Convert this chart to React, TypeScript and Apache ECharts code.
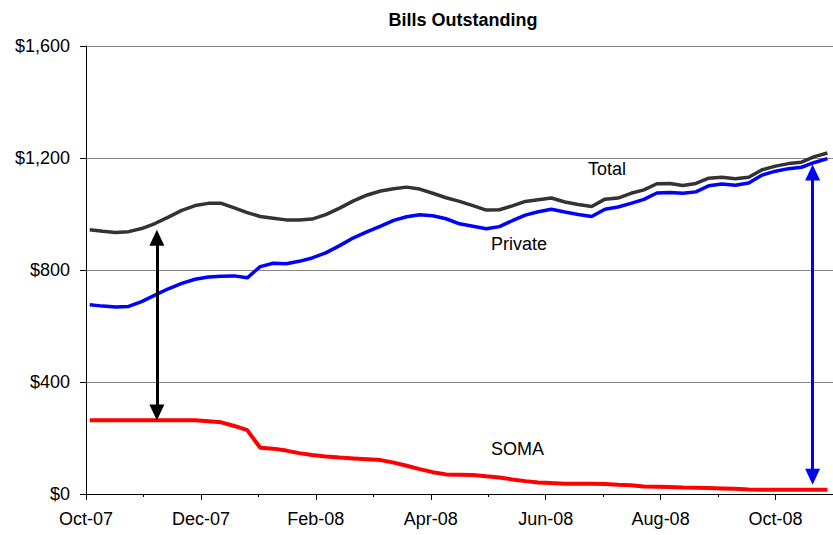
import React, { useEffect, useRef } from "react";
import * as echarts from "echarts";

// Weekly dates (Wednesdays)
const dates: string[] = [
  "2007-10-03","2007-10-10","2007-10-17","2007-10-24","2007-10-31",
  "2007-11-07","2007-11-14","2007-11-21","2007-11-28",
  "2007-12-05","2007-12-12","2007-12-19","2007-12-26",
  "2008-01-02","2008-01-09","2008-01-16","2008-01-23","2008-01-30",
  "2008-02-06","2008-02-13","2008-02-20","2008-02-27",
  "2008-03-05","2008-03-12","2008-03-19","2008-03-26",
  "2008-04-02","2008-04-09","2008-04-16","2008-04-23","2008-04-30",
  "2008-05-07","2008-05-14","2008-05-21","2008-05-28",
  "2008-06-04","2008-06-11","2008-06-18","2008-06-25",
  "2008-07-02","2008-07-09","2008-07-16","2008-07-23","2008-07-30",
  "2008-08-06","2008-08-13","2008-08-20","2008-08-27",
  "2008-09-03","2008-09-10","2008-09-17","2008-09-24",
  "2008-10-01","2008-10-08","2008-10-15","2008-10-22","2008-10-29",
];

const total: number[] = [
  944, 938, 934, 937, 948,
  966, 989, 1013, 1030,
  1038, 1038, 1022, 1005,
  991, 985, 979, 979, 982,
  998, 1021, 1047, 1068,
  1082, 1090, 1096, 1089,
  1074, 1058, 1045, 1030, 1014,
  1015, 1029, 1045, 1051,
  1057, 1043, 1034, 1027,
  1053, 1057, 1074, 1086, 1108,
  1109, 1102, 1109, 1128,
  1131, 1126, 1131, 1158,
  1171, 1180, 1185, 1205, 1218,
];

const privateHeld: number[] = [
  676, 671, 668, 670, 687,
  710, 733, 752, 767,
  775, 778, 779, 772,
  812, 824, 822, 831, 843,
  861, 887, 915, 937,
  957, 977, 990, 997,
  994, 983, 965, 956, 947,
  955, 976, 996, 1008,
  1017, 1007, 998, 991,
  1017, 1025, 1038, 1052, 1075,
  1077, 1074, 1079, 1101,
  1107, 1103, 1111, 1139,
  1153, 1162, 1167, 1184, 1198,
];

const soma: number[] = [
  263, 263, 263, 263, 263,
  263, 263, 263, 263,
  260, 256, 243, 228,
  165, 162, 155, 146, 139,
  134, 130, 127, 124,
  121, 112, 101, 89,
  78, 70, 69, 68, 63,
  59, 52, 46, 41,
  39, 37, 37, 37,
  36, 33, 31, 27, 26,
  25, 23, 22, 21,
  20, 19, 16, 15,
  15, 15, 15, 15, 15,
];

const monthLabels: string[] = [
  "Oct-07","Nov-07","Dec-07","Jan-08","Feb-08","Mar-08","Apr-08",
  "May-08","Jun-08","Jul-08","Aug-08","Sep-08","Oct-08","Nov-08",
];

// annotation arrows: [date, from value, to value] (arrowhead centres)
const blackArrow = { date: "2007-11-08", from: 915, to: 291 };
const blueArrow = { date: "2008-10-21", from: 1148, to: 62 };

// month index from Oct-07 (fractional)
function monthPos(d: string): number {
  const [y, m, day] = d.split("-").map(Number);
  const dim = new Date(y, m, 0).getDate();
  return (y - 2007) * 12 + (m - 10) + (day - 1) / dim;
}

const FONT = "'Liberation Sans', Arial, sans-serif";

export default function App() {
  const ref = useRef<HTMLDivElement>(null);
  useEffect(() => {
    if (!ref.current) return;
    const chart = echarts.init(ref.current, null, { renderer: "svg" });
    const pts = (vals: number[]) => dates.map((d, i) => [monthPos(d), vals[i]]);
    const arrowLine = (a: { date: string; from: number; to: number }, color: string) => ({
      silent: true,
      symbol: ["triangle", "triangle"],
      symbolSize: [15, 16],
      label: { show: false },
      lineStyle: { color, width: 3, type: "solid", opacity: 1 },
      itemStyle: { color },
      emphasis: { disabled: true },
      data: [[{ coord: [monthPos(a.date), a.from] }, { coord: [monthPos(a.date), a.to] }]],
    });
    chart.setOption({
      animation: false,
      backgroundColor: "#ffffff",
      textStyle: { fontFamily: FONT },
      title: {
        text: "Bills Outstanding",
        left: 458,
        top: 6,
        textAlign: "center",
        textStyle: { fontFamily: FONT, fontSize: 18, fontWeight: "bold", color: "#000" },
      },
      grid: { left: 86, top: 46, width: 749, height: 448, containLabel: false },
      xAxis: {
        type: "value",
        min: 0,
        max: 13,
        interval: 2,
        axisLine: { show: true, lineStyle: { color: "#000", width: 1 } },
        axisTick: { show: true, length: 6, lineStyle: { color: "#000" } },
        minorTick: { show: true, splitNumber: 2, length: 3, lineStyle: { color: "#000" } },
        splitLine: { show: false },
        axisLabel: {
          margin: 16,
          fontSize: 18,
          color: "#000",
          fontFamily: FONT,
          showMaxLabel: false,
          formatter: (v: number) => (Math.round(v) % 2 === 0 ? monthLabels[Math.round(v)] || "" : ""),
        },
      },
      yAxis: {
        type: "value",
        min: 0,
        max: 1600,
        interval: 400,
        axisLine: { show: true, lineStyle: { color: "#000", width: 1 } },
        axisTick: { show: true, length: 6, lineStyle: { color: "#000" } },
        splitLine: { show: true, lineStyle: { color: "#888", width: 1 } },
        axisLabel: {
          margin: 16,
          fontSize: 18,
          color: "#000",
          fontFamily: FONT,
          formatter: (v: number) => "$" + v.toLocaleString("en-US"),
        },
      },
      series: [
        {
          name: "Total",
          type: "line",
          data: pts(total),
          showSymbol: false,
          lineStyle: { color: "#333333", width: 3.5 },
          itemStyle: { color: "#333333" },
          markLine: arrowLine(blackArrow, "#000000"),
        },
        {
          name: "Private",
          type: "line",
          data: pts(privateHeld),
          showSymbol: false,
          lineStyle: { color: "#0000ff", width: 3.5 },
          itemStyle: { color: "#0000ff" },
          markLine: arrowLine(blueArrow, "#0000ff"),
        },
        {
          name: "SOMA",
          type: "line",
          data: pts(soma),
          showSymbol: false,
          lineStyle: { color: "#ff0000", width: 4 },
          itemStyle: { color: "#ff0000" },
        },
      ],
      graphic: [
        { type: "text", left: 588, top: 160, style: { text: "Total", font: `18px ${FONT}`, fill: "#000" } },
        { type: "text", left: 491, top: 235, style: { text: "Private", font: `18px ${FONT}`, fill: "#000" } },
        { type: "text", left: 491, top: 440, style: { text: "SOMA", font: `18px ${FONT}`, fill: "#000" } },
      ],
    });
    return () => chart.dispose();
  }, []);
  return (
    <div
      ref={ref}
      style={{ position: "absolute", left: 0, top: 0, width: 833, height: 535, background: "#fff" }}
    />
  );
}
